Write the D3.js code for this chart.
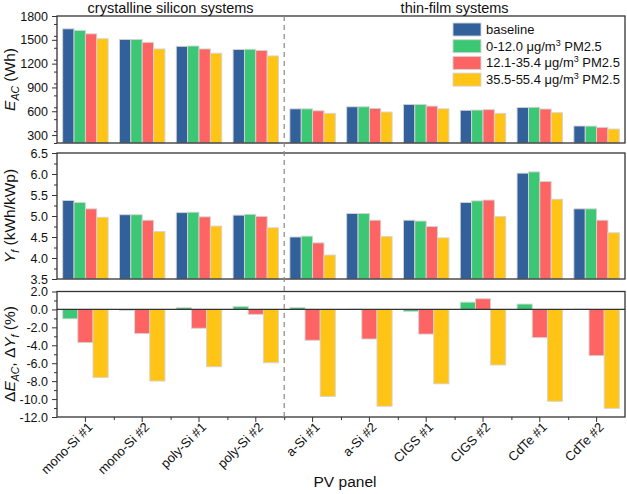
<!DOCTYPE html>
<html><head><meta charset="utf-8">
<script src="https://cdn.jsdelivr.net/npm/d3@7"></script>
<style>body{margin:0;background:#fff}svg{display:block;font-family:"Liberation Sans",Arial,sans-serif}</style>
</head><body><svg id="c" width="627" height="494"></svg>
<script>
const categories = ["mono-Si #1","mono-Si #2","poly-Si #1","poly-Si #2","a-Si #1","a-Si #2","CIGS #1","CIGS #2","CdTe #1","CdTe #2"];
const seriesNames = ["baseline","0-12.0 μg/m3 PM2.5","12.1-35.4 μg/m3 PM2.5","35.5-55.4 μg/m3 PM2.5"];
const colors = ["#31609a","#3cc774","#fe6464","#ffc415"];

// E_AC (Wh)
const eacBaseline = [1638,1505,1418,1378,630,656,686,612,648,414];
const eacLow      = [1618,1505,1422,1381,630,656,685,615,650,413];
const eacMid      = [1575,1468,1385,1366,606,636,665,620,628,397];
const eacHigh     = [1514,1385,1331,1297,574,590,631,574,582,376];

// Y_f (kWh/kWp)
const yfBaseline = [5.37,5.03,5.08,5.02,4.50,5.06,4.90,5.32,6.02,5.17];
const yfLow      = [5.32,5.03,5.09,5.04,4.52,5.06,4.88,5.36,6.05,5.17];
const yfMid      = [5.17,4.90,4.98,4.99,4.36,4.90,4.75,5.38,5.82,4.90];
const yfHigh     = [4.97,4.63,4.76,4.72,4.07,4.51,4.48,4.99,5.40,4.60];

// Delta E_AC, Delta Y_f (%)
const deltaLow  = [-1.05,-0.10,0.19,0.33,0.20,0.02,-0.22,0.81,0.60,0.03];
const deltaMid  = [-3.70,-2.70,-2.10,-0.55,-3.44,-3.30,-2.75,1.19,-3.15,-5.16];
const deltaHigh = [-7.60,-7.99,-6.40,-5.95,-9.70,-10.80,-8.30,-6.20,-10.25,-11.03];

const eacTicks = [300,600,900,1200,1500,1800];
const yfTicks = [3.5,4.0,4.5,5.0,5.5,6.0,6.5];
const deltaTicks = [2,0,-2,-4,-6,-8,-10,-12];

const svg = d3.select("#c");
const L = 57, R = 625;
const x = d3.scaleBand().domain(categories).range([L, R]).paddingInner(0).paddingOuter(0);
const inner4 = d3.scaleBand().domain(d3.range(4)).range([0, x.bandwidth()*0.8]);
const inner3 = d3.scaleBand().domain(d3.range(3)).range([0, x.bandwidth()*0.8]);
const off = x.bandwidth()*0.1;

const panels = [
  {top:16, bottom:143, domain:[200,1800], ticks:eacTicks, minorStep:150, fmt:d=>String(d), data:[eacBaseline,eacLow,eacMid,eacHigh], sIdx:[0,1,2,3], inner:inner4},
  {top:153, bottom:279, domain:[3.5,6.5], ticks:yfTicks, minorStep:0.25, fmt:d=>d.toFixed(1), data:[yfBaseline,yfLow,yfMid,yfHigh], sIdx:[0,1,2,3], inner:inner4},
  {top:291.5, bottom:417, domain:[-12,2], ticks:deltaTicks, minorStep:1, fmt:d=>d.toFixed(1), data:[deltaLow,deltaMid,deltaHigh], sIdx:[1,2,3], inner:inner3, zero:true}
];

panels.forEach((p, pi) => {
  const y = d3.scaleLinear().domain(p.domain).range([p.bottom, p.top]);
  const g = svg.append("g");
  p.data.forEach((arr, k) => {
    g.selectAll(null).data(arr).enter().append("rect")
      .attr("x", (d,i) => x(categories[i]) + off + p.inner(k))
      .attr("width", p.inner.bandwidth())
      .attr("y", d => p.zero ? y(Math.max(0,d)) : y(d))
      .attr("height", d => p.zero ? Math.abs(y(d)-y(0)) : y(p.domain[0]) - y(d))
      .attr("fill", colors[p.sIdx[k]])
      .attr("stroke", "#d4d4d4").attr("stroke-width", 0.9);
  });
  if (p.zero) {
    g.append("line").attr("x1", L).attr("x2", R).attr("y1", y(0)).attr("y2", y(0))
      .attr("stroke", "#333").attr("stroke-width", 1.3);
  }
  const ax = g.append("g").attr("transform", `translate(${L},0)`)
    .call(d3.axisLeft(y).tickValues(p.ticks).tickFormat(p.fmt).tickSize(5).tickPadding(4));
  ax.select(".domain").remove();
  ax.selectAll("text").attr("font-size", 12.5).attr("fill", "#111").attr("font-family","Liberation Sans, Arial, sans-serif");
  ax.selectAll("line").attr("stroke", "#333");
  const minors = d3.range(p.domain[0], p.domain[1] + 1e-9, p.minorStep).filter(v => !p.ticks.some(t => Math.abs(t - v) < 1e-9));
  const mx = g.append("g").attr("transform", `translate(${L},0)`)
    .call(d3.axisLeft(y).tickValues(minors).tickFormat("").tickSize(3));
  mx.select(".domain").remove();
  mx.selectAll("line").attr("stroke", "#333");
  g.append("rect").attr("x", L).attr("y", p.top).attr("width", R-L).attr("height", p.bottom-p.top)
    .attr("fill", "none").attr("stroke", "#333").attr("stroke-width", 1.3);
});

const xb = svg.append("g").attr("transform", `translate(0,417)`)
  .call(d3.axisBottom(x).tickSize(5).tickFormat(""));
xb.select(".domain").remove();
xb.selectAll("line").attr("stroke", "#333");
const xm = d3.scaleLinear().domain([0, categories.length]).range([L, R]);
const xmn = svg.append("g").attr("transform", `translate(0,417)`)
  .call(d3.axisBottom(xm).tickValues(d3.range(1, categories.length)).tickFormat("").tickSize(3));
xmn.select(".domain").remove();
xmn.selectAll("line").attr("stroke", "#333");

svg.append("g").selectAll("text").data(categories).enter().append("text")
  .attr("transform", d => `translate(${x(d) + x.bandwidth()/2 + 8},${428}) rotate(-45)`)
  .attr("text-anchor", "end").attr("font-size", 13).attr("fill", "#111").text(d => d);

const sepX = (x(categories[3]) + x.bandwidth() + x(categories[4])) / 2;
svg.append("line").attr("x1", sepX).attr("x2", sepX).attr("y1", 16).attr("y2", 417)
  .attr("stroke", "#888").attr("stroke-width", 1.2).attr("stroke-dasharray", "5,4");

svg.append("text").attr("x", (L + sepX)/2).attr("y", 12.5).attr("text-anchor", "middle")
  .attr("font-size", 14.5).attr("fill", "#111").text("crystalline silicon systems");
svg.append("text").attr("x", (sepX + R)/2).attr("y", 12.5).attr("text-anchor", "middle")
  .attr("font-size", 14.5).attr("fill", "#111").text("thin-film systems");

function ylab(cy, parts) {
  const t = svg.append("text").attr("transform", `translate(15,${cy}) rotate(-90)`)
    .attr("text-anchor", "middle").attr("font-size", 15.5).attr("fill", "#111");
  parts.forEach(pt => {
    const s = t.append("tspan").text(pt.t);
    if (pt.i) s.attr("font-style", "italic");
    if (pt.sub) s.attr("font-size", 10.5).attr("dy", 4);
    if (pt.up) s.attr("dy", -4);
  });
}
ylab(79.5, [{t:"E", i:1},{t:"AC", i:1, sub:1},{t:" (Wh)", up:1}]);
ylab(216, [{t:"Y", i:1},{t:"f", i:1, sub:1},{t:" (kWh/kWp)", up:1}]);
ylab(354, [{t:"Δ"},{t:"E", i:1},{t:"AC", i:1, sub:1},{t:", Δ", up:1},{t:"Y", i:1},{t:"f", i:1, sub:1},{t:" (%)", up:1}]);

svg.append("text").attr("x", (L+R)/2 + 4).attr("y", 487).attr("text-anchor", "middle")
  .attr("font-size", 15.5).attr("fill", "#111").text("PV panel");

const lg = svg.append("g");
seriesNames.forEach((name, i) => {
  const cy = 29.5 + i*16.7;
  lg.append("rect").attr("x", 453).attr("y", cy - 6.5).attr("width", 28).attr("height", 13)
    .attr("fill", colors[i]).attr("stroke", "#d4d4d4").attr("stroke-width", 0.9);
  const t = lg.append("text").attr("x", 486).attr("y", cy + 4.5).attr("font-size", 13).attr("fill", "#111");
  const m = name.match(/^(.*m)3( .*)$/);
  if (m) {
    t.append("tspan").text(m[1]);
    t.append("tspan").text("3").attr("font-size", 9).attr("dy", -5);
    t.append("tspan").text(m[2]).attr("dy", 5);
  } else t.text(name);
});
</script></body></html>
